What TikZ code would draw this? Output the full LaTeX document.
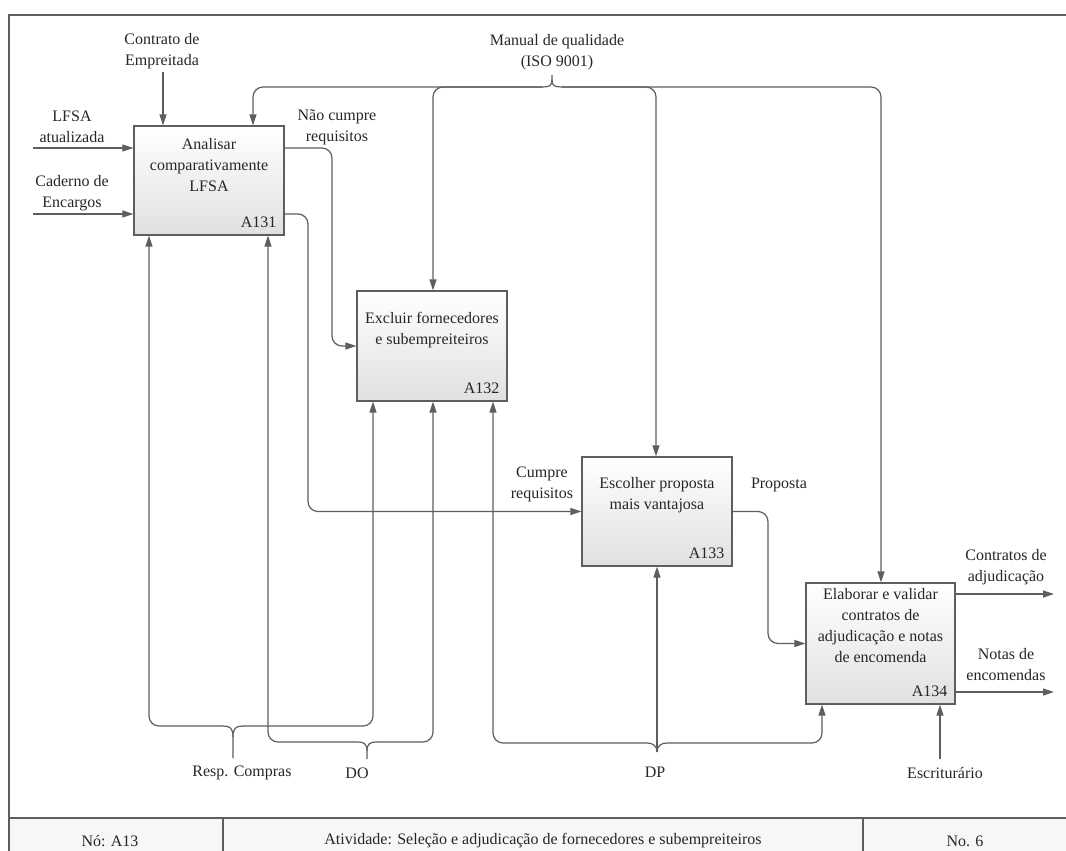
\documentclass[tikz,border=0pt]{standalone}
\usepackage{fontspec}
\setmainfont{Liberation Serif}
\usetikzlibrary{arrows.meta,calc}
\definecolor{wire}{HTML}{5E5E5E}
\definecolor{ink}{HTML}{262626}
\begin{document}
\begin{tikzpicture}[x=1pt,y=-1pt,
  every node/.style={font=\fontsize{16}{21}\selectfont, text=ink, inner sep=0pt, align=center},
  wire/.style={draw=wire, line width=1.2pt},
  flow/.style={wire, -{Triangle[length=11pt,width=7pt]}},
  elbow/.style={rounded corners=10pt},
  activity/.style={draw=wire, line width=1.3pt, top color=white, bottom color=gray!24,
                   minimum width=150pt, minimum height=110pt},
  tag/.style={anchor=base east},
  ]
\useasboundingbox (0,0) rectangle (1066,851);

% frame and title strip
\fill[gray!6] (9,818) rectangle (1066,851);
\draw[wire] (9,851) -- (9,15) -- (1066,15);
\draw[wire] (9,818) -- (1066,818);
\draw[wire] (223,818) -- (223,851);
\draw[wire] (863,818) -- (863,851);
\node (fnode) at (110,841) {Nó: A13};
\node (fact) at (543,841) {Atividade: Seleção e adjudicação de fornecedores e subempreiteiros};
\node (fno) at (965,841) {No. 6};

% activities
\node[activity, minimum height=109pt] (a131) at (209,180.5) {};
\node[activity] (a132) at (432,346) {};
\node[activity, minimum height=109pt] (a133) at (657,511.5) {};
\node[activity, minimum width=149pt, minimum height=121pt] (a134) at (880.5,643.5) {};

\node (a131t) at ($(a131.north)+(0,40)$) {Analisar\\comparativamente\\LFSA};
\node (a132t) at ($(a132.north)+(0,39.5)$) {Excluir fornecedores\\e subempreiteiros};
\node (a133t) at ($(a133.north)+(0,39)$) {Escolher proposta\\mais vantajosa};
\node (a134t) at ($(a134.north)+(0,43)$) {Elaborar e validar\\contratos de\\adjudicação e notas\\de encomenda};

\node[tag] (a131n) at ($(a131.south east)+(-8,-8)$) {A131};
\node[tag] (a132n) at ($(a132.south east)+(-8,-8)$) {A132};
\node[tag] (a133n) at ($(a133.south east)+(-8,-8)$) {A133};
\node[tag] (a134n) at ($(a134.south east)+(-8,-8)$) {A134};

% labels
\node (contrato) at (162,51) {Contrato de\\Empreitada};
\node (manual) at (557,52) {Manual de qualidade\\(ISO 9001)};
\node (lfsa) at (72,127) {LFSA\\atualizada};
\node (caderno) at (72,193) {Caderno de\\Encargos};
\node (naocumpre) at (337,127.5) {Não cumpre\\requisitos};
\node (cumpre) at (542,484.5) {Cumpre\\requisitos};
\node (proposta) at (779,485) {Proposta};
\node (contratos) at (1006,567.5) {Contratos de\\adjudicação};
\node (notas) at (1006,665) {Notas de\\encomendas};
\node (resp) at (242,773) {Resp. Compras};
\node (do) at (357,773) {DO};
\node (dp) at (655,772) {DP};
\node (escr) at (945,773) {Escriturário};

% inputs
\coordinate (in1) at (33,148);
\coordinate (in2) at (33,214);
\draw[flow] (in1) -- (in1 -| a131.west);
\draw[flow] (in2) -- (in2 -| a131.west);

% controls
\coordinate (ctr) at (163,72);
\draw[flow] (ctr) -- (ctr |- a131.north);

\coordinate (mq) at (552,75);
\coordinate (mqL) at (542,87);
\coordinate (mqR) at (562,87);
\draw[wire] (mq) -- (552,80) .. controls (552,86) and (549,87) .. (mqL);
\draw[wire] (552,80) .. controls (552,86) and (555,87) .. (mqR);
\coordinate (ctlA) at (253,87);
\coordinate (ctlB) at (433,87);
\coordinate (ctlC) at (656,87);
\coordinate (ctlD) at (881,87);
\draw[flow, elbow] (mqL) -- (ctlA) -- (ctlA |- a131.north);
\draw[flow, elbow] (mqL) -- (ctlB) -- (ctlB |- a132.north);
\draw[flow, elbow] (mqR) -- (ctlC) -- (ctlC |- a133.north);
\draw[flow, elbow] (mqR) -- (ctlD) -- (ctlD |- a134.north);

% flows between activities
\draw[flow, elbow] (in1 -| a131.east) -- (332,148) -- (332,346) -- (a132.west);
\draw[flow, elbow] (in2 -| a131.east) -- (308,214) -- (308,511.5) -- (a133.west);
\draw[flow, elbow] (a133.east) -- (768,511.5) -- (768,643.5) -- (a134.west);

% outputs
\coordinate (out1) at (1054,594);
\coordinate (out2) at (1054,692);
\draw[flow] (out1 -| a134.east) -- (out1);
\draw[flow] (out2 -| a134.east) -- (out2);

% mechanism: Resp. Compras
\coordinate (rcL) at (223,726);
\coordinate (rcR) at (243,726);
\draw[wire] (233,758) -- (233,737) .. controls (233,728) and (230,726) .. (rcL);
\draw[wire] (233,737) .. controls (233,728) and (236,726) .. (rcR);
\coordinate (mA) at (149,726);
\coordinate (mB) at (373,726);
\draw[flow, elbow] (rcL) -- (mA) -- (mA |- a131.south);
\draw[flow, elbow] (rcR) -- (mB) -- (mB |- a132.south);

% mechanism: DO
\coordinate (doL) at (358,742);
\coordinate (doR) at (376,742);
\draw[wire] (367,759) -- (367,751) .. controls (367,744) and (364,742) .. (doL);
\draw[wire] (367,751) .. controls (367,744) and (370,742) .. (doR);
\coordinate (mC) at (268,742);
\coordinate (mD) at (433,742);
\draw[flow, elbow] (doL) -- (mC) -- (mC |- a131.south);
\draw[flow, elbow] (doR) -- (mD) -- (mD |- a132.south);

% mechanism: DP
\coordinate (dpT) at (657,752);
\coordinate (dpL) at (647,743);
\coordinate (dpR) at (667,743);
\draw[wire] (dpL) .. controls (653,743) and (657,746) .. (dpT);
\draw[wire] (dpR) .. controls (661,743) and (657,746) .. (dpT);
\draw[flow] (dpT) -- (dpT |- a133.south);
\coordinate (mE) at (493,743);
\coordinate (mF) at (822,743);
\draw[flow, elbow] (dpL) -- (mE) -- (mE |- a132.south);
\draw[flow, elbow] (dpR) -- (mF) -- (mF |- a134.south);

% mechanism: Escriturário
\coordinate (esc) at (940,759);
\draw[flow] (esc) -- (esc |- a134.south);
\end{tikzpicture}
\end{document}
